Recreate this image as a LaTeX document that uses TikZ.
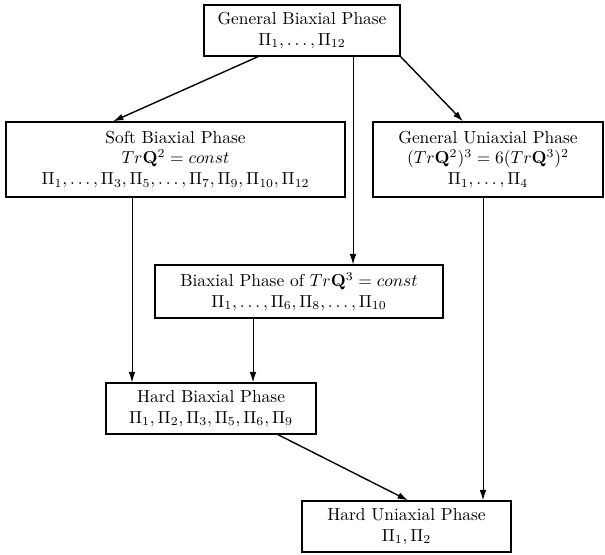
\documentclass[tikz,border=0pt]{standalone}
\usetikzlibrary{calc,arrows.meta}
\begin{document}
\begin{tikzpicture}[x=0.575pt,y=-0.575pt,
  box/.style={draw,line width=0.75pt,inner sep=0pt,align=center,font=\normalsize},
  arr/.style={line width=0.55pt,-{Latex[length=6pt,width=3.8pt]}},
  diag/.style={arr,line width=0.8pt}]
\useasboundingbox (0,0) rectangle (605,554);
\node[box,minimum width=196*0.575pt,minimum height=51*0.575pt] (top) at (302,30.5)
  {General Biaxial Phase\\ $\Pi_1,\ldots,\Pi_{12}$};
\node[box,minimum width=339*0.575pt,minimum height=75*0.575pt] (soft) at (175.5,159.5)
  {Soft Biaxial Phase\\ $Tr\mathbf{Q}^2=const$\\ $\Pi_1,\ldots,\Pi_3,\Pi_5,\ldots,\Pi_7,\Pi_9,\Pi_{10},\Pi_{12}$};
\node[box,minimum width=230*0.575pt,minimum height=75*0.575pt] (guni) at (488,159.5)
  {General Uniaxial Phase\\ $(Tr\mathbf{Q}^2)^3=6(Tr\mathbf{Q}^3)^2$\\ $\Pi_1,\ldots,\Pi_4$};
\node[box,minimum width=288*0.575pt,minimum height=53*0.575pt] (q3) at (299,291.5)
  {Biaxial Phase of $Tr\mathbf{Q}^3=const$\\ $\Pi_1,\ldots,\Pi_6,\Pi_8,\ldots,\Pi_{10}$};
\node[box,minimum width=210*0.575pt,minimum height=51*0.575pt] (hb) at (211,408.5)
  {Hard Biaxial Phase\\ $\Pi_1,\Pi_2,\Pi_3,\Pi_5,\Pi_6,\Pi_9$};
\node[box,minimum width=209*0.575pt,minimum height=51*0.575pt] (hu) at (406.5,526.5)
  {Hard Uniaxial Phase\\ $\Pi_1,\Pi_2$};
\coordinate (s1) at ($(top.south)+(51,0)$);
\coordinate (s2) at ($(soft.south)+(-43.5,0)$);
\coordinate (s3) at ($(q3.south)+(-46,0)$);
\coordinate (s4) at ($(guni.south)+(-5,0)$);
\draw[diag] ($(top.south)+(-44,0)$) -- ($(soft.north)+(-62.5,0)$);
\draw[diag] (top.south east) -- ($(guni.north)+(-25,0)$);
\draw[arr] (s1) -- (s1 |- q3.north);
\draw[arr] (s2) -- (s2 |- hb.north);
\draw[arr] (s3) -- (s3 |- hb.north);
\draw[diag] ($(hb.south)+(67,0)$) -- ($(hu.north)+(1.5,0)$);
\draw[arr] (s4) -- (s4 |- hu.north);
\end{tikzpicture}
\end{document}
